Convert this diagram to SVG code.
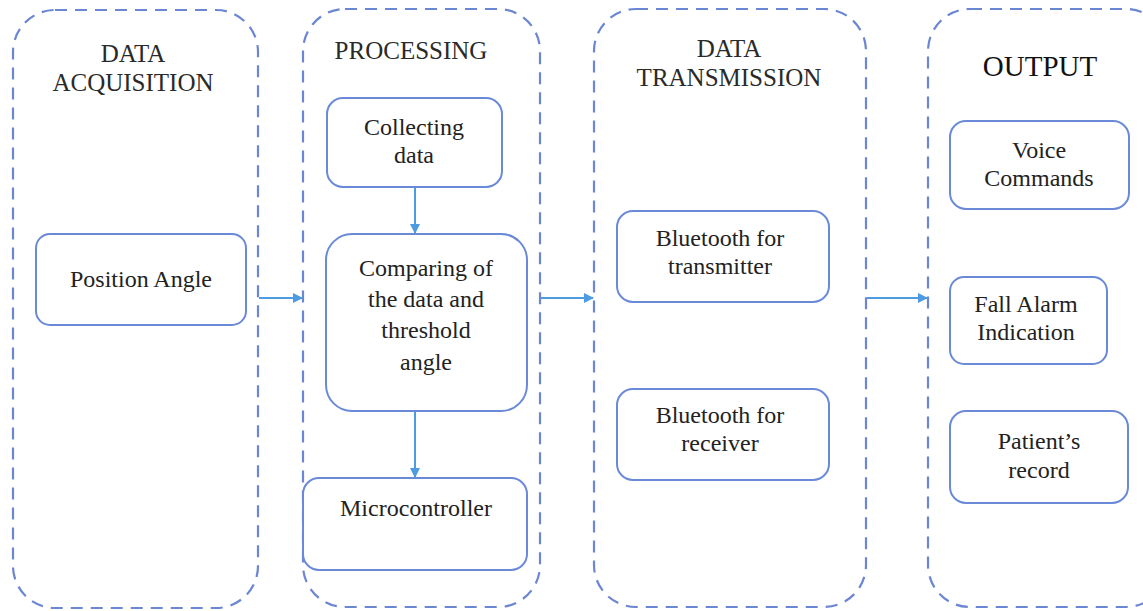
<svg xmlns="http://www.w3.org/2000/svg" width="1143" height="611" viewBox="0 0 1143 611">
  <style>
    .stage { fill: none; stroke: #6b86d2; stroke-width: 2.2; stroke-dasharray: 12 8; }
    .box { fill: #ffffff; stroke: #6a8ad8; stroke-width: 2; }
    .head { font-size: 25px; fill: #2a2a2a; text-anchor: middle; }
    .lbl { font-size: 24px; fill: #222222; text-anchor: middle; }
    .link { stroke: #4d9be0; stroke-width: 2; fill: none; marker-end: url(#arrow); }
  </style>
  <defs>
    <marker id="arrow" markerWidth="10" markerHeight="10" refX="9" refY="5" orient="auto" markerUnits="userSpaceOnUse">
      <path d="M0,0 L10,5 L0,10 z" fill="#4d9be0"/>
    </marker>
  </defs>
  <rect width="1143" height="611" fill="#ffffff"/>

  <g font-family="Liberation Serif, Tinos, DejaVu Serif, Noto Serif, serif">
  <g id="stage-acquisition">
    <rect class="stage" x="13" y="10" width="245" height="598" rx="42"/>
    <text class="head" x="133" y="62">DATA</text>
    <text class="head" x="133" y="91">ACQUISITION</text>
  </g>
  <g id="stage-processing">
    <rect class="stage" x="303" y="9" width="237" height="598" rx="42"/>
    <text class="head" x="411" y="59">PROCESSING</text>
  </g>
  <g id="stage-transmission">
    <rect class="stage" x="594" y="9" width="272" height="598" rx="42"/>
    <text class="head" x="729" y="57">DATA</text>
    <text class="head" x="729" y="86">TRANSMISSION</text>
  </g>
  <g id="stage-output">
    <rect class="stage" x="928" y="9" width="240" height="598" rx="42"/>
    <text class="head" x="1040" y="76" style="font-size:29px;fill:#111">OUTPUT</text>
  </g>

  <g id="node-position-angle">
    <rect class="box" x="36" y="234" width="210" height="91" rx="14"/>
    <text class="lbl" x="141" y="287">Position Angle</text>
  </g>
  <g id="node-collecting">
    <rect class="box" x="327" y="98" width="175" height="89" rx="16"/>
    <text class="lbl" x="414" y="135">Collecting</text>
    <text class="lbl" x="414" y="163">data</text>
  </g>
  <g id="node-comparing">
    <rect class="box" x="326" y="234" width="201" height="177" rx="26"/>
    <text class="lbl" x="426" y="276">Comparing of</text>
    <text class="lbl" x="426" y="307">the data and</text>
    <text class="lbl" x="426" y="338">threshold</text>
    <text class="lbl" x="426" y="370">angle</text>
  </g>
  <g id="node-microcontroller">
    <rect class="box" x="303" y="478" width="224" height="92" rx="16"/>
    <text class="lbl" x="416" y="516">Microcontroller</text>
  </g>
  <g id="node-bt-transmitter">
    <rect class="box" x="617" y="211" width="212" height="91" rx="16"/>
    <text class="lbl" x="720" y="246">Bluetooth for</text>
    <text class="lbl" x="720" y="274">transmitter</text>
  </g>
  <g id="node-bt-receiver">
    <rect class="box" x="617" y="389" width="212" height="91" rx="16"/>
    <text class="lbl" x="720" y="423">Bluetooth for</text>
    <text class="lbl" x="720" y="451">receiver</text>
  </g>
  <g id="node-voice">
    <rect class="box" x="950" y="121" width="179" height="88" rx="16"/>
    <text class="lbl" x="1039" y="158">Voice</text>
    <text class="lbl" x="1039" y="186">Commands</text>
  </g>
  <g id="node-fall-alarm">
    <rect class="box" x="950" y="277" width="157" height="87" rx="14"/>
    <text class="lbl" x="1026" y="312">Fall Alarm</text>
    <text class="lbl" x="1026" y="340">Indication</text>
  </g>
  <g id="node-patient">
    <rect class="box" x="950" y="411" width="178" height="92" rx="16"/>
    <text class="lbl" x="1039" y="449">Patient’s</text>
    <text class="lbl" x="1039" y="478">record</text>
  </g>
  </g>

  <g id="connectors">
    <line class="link" x1="259" y1="298" x2="302" y2="298"/>
    <line class="link" x1="541" y1="298" x2="593" y2="298"/>
    <line class="link" x1="867" y1="298" x2="927" y2="298"/>
    <line class="link" x1="415" y1="188" x2="415" y2="233"/>
    <line class="link" x1="415" y1="412" x2="415" y2="477"/>
  </g>
</svg>
